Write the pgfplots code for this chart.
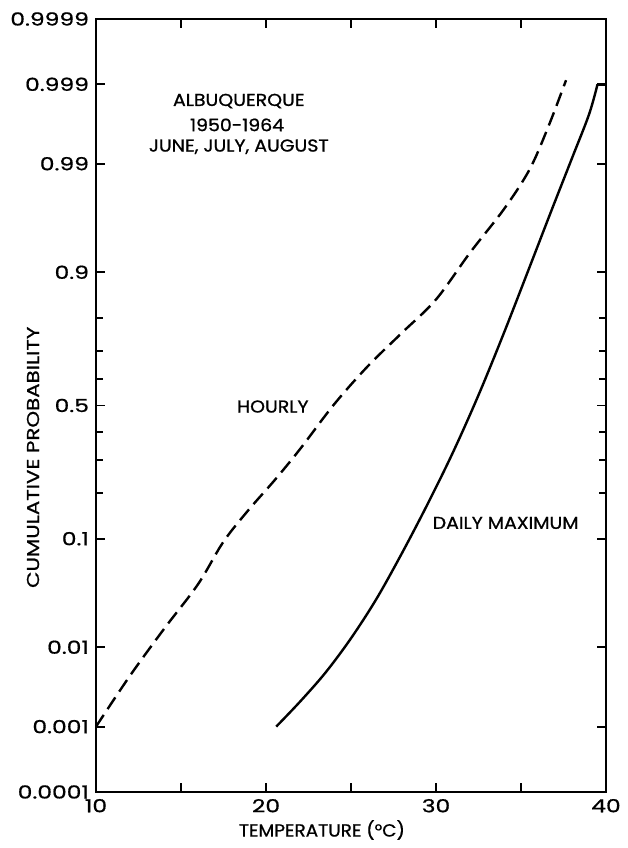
\documentclass[border=0pt]{standalone}
\usepackage{fontspec}
\setmainfont{Poppins}
\newfontfamily\tickf{Poppins}[FakeStretch=1.3,FakeBold=0.8]
\newfontfamily\ylf{Poppins}[FakeStretch=1.24,FakeBold=0.8]
\newfontfamily\xlf{Poppins}[FakeStretch=1.05,FakeBold=0.8]
\newfontfamily\annf{Poppins}[FakeStretch=1.1,FakeBold=1]
\usepackage{pgfplots}
\pgfplotsset{compat=1.18}
\begin{document}
\begin{tikzpicture}
\begin{axis}[
  scale only axis,
  width=255pt, height=386.5pt,
  xmin=10, xmax=40,
  ymin=-3.7190, ymax=3.7190,
  axis line style={line width=1pt},
  tick style={line width=0.9pt, black},
  tick align=inside,
  major tick length=4.5pt,
  minor tick length=3.5pt,
  xtick={10,15,20,25,30,35,40},
  xticklabels={10,,20,,30,,40},
  ytick={-3.7190,-3.0902,-2.3263,-1.2816,0,1.2816,2.3263,3.0902,3.7190},
  yticklabels={0.0001,0.001,0.01,0.1,0.5,0.9,0.99,0.999,0.9999},
  minor ytick={-0.8416,-0.5244,-0.2533,0.2533,0.5244,0.8416},
  tick label style={font=\tickf\fontsize{9}{10}\selectfont},
  /pgf/number format/assume math mode=true,
  xlabel={TEMPERATURE (°C)},
  ylabel={CUMULATIVE PROBABILITY},
  xlabel style={font=\xlf\fontsize{8.8}{10}\selectfont, at={(axis description cs:0.443,0)}, anchor=center, yshift=-19pt},
  ylabel style={font=\ylf\fontsize{8.6}{10}\selectfont, at={(axis description cs:-0.1235,0.433)}, anchor=center},
  clip=false,
]
% Hourly (dashed): temperature vs. normal quantile of cumulative probability
\addplot[black, line width=1.2pt, dash pattern=on 7pt off 3.5pt, smooth, tension=0.55] coordinates {
(10.0,-3.09) (12.0,-2.60) (14.0,-2.15) (16.0,-1.72) (17.5,-1.31) (19.0,-1.00)
(20.5,-0.72) (22.0,-0.42) (24.0,0.01) (26.0,0.38) (28.0,0.70) (30.0,1.02)
(32.0,1.47) (34.0,1.89) (35.5,2.27) (36.6,2.68) (37.65,3.13)
};
% Daily maximum (solid)
\addplot[black, line width=1.2pt, smooth, tension=0.55] coordinates {
(20.6,-3.09) (22.0,-2.85) (23.5,-2.57) (25.0,-2.24) (26.5,-1.86) (28.0,-1.42)
(29.5,-0.95) (31.0,-0.45) (32.5,0.10) (34.0,0.70) (35.5,1.33) (36.8,1.88)
(38.0,2.38) (39.0,2.80) (39.5,3.09)
};
\addplot[black, line width=1.2pt] coordinates {(39.5,3.09) (40.0,3.09)};
\node[font=\annf\fontsize{8.6}{10}\selectfont] at (axis cs:18.4,2.93) {ALBUQUERQUE};
\node[font=\annf\fontsize{8.6}{10}\selectfont] at (axis cs:18.3,2.70) {1950-1964};
\node[font=\annf\fontsize{8.6}{10}\selectfont] at (axis cs:18.4,2.49) {JUNE, JULY, AUGUST};
\node[font=\annf\fontsize{8.6}{10}\selectfont] at (axis cs:20.4,-0.01) {HOURLY};
\node[font=\annf\fontsize{8.6}{10}\selectfont] at (axis cs:34.1,-1.13) {DAILY MAXIMUM};
\end{axis}
\path (current axis.south west) ++(-48pt,-28pt) rectangle ([shift={(10pt,9.5pt)}]current axis.north east);
\end{tikzpicture}
\end{document}
